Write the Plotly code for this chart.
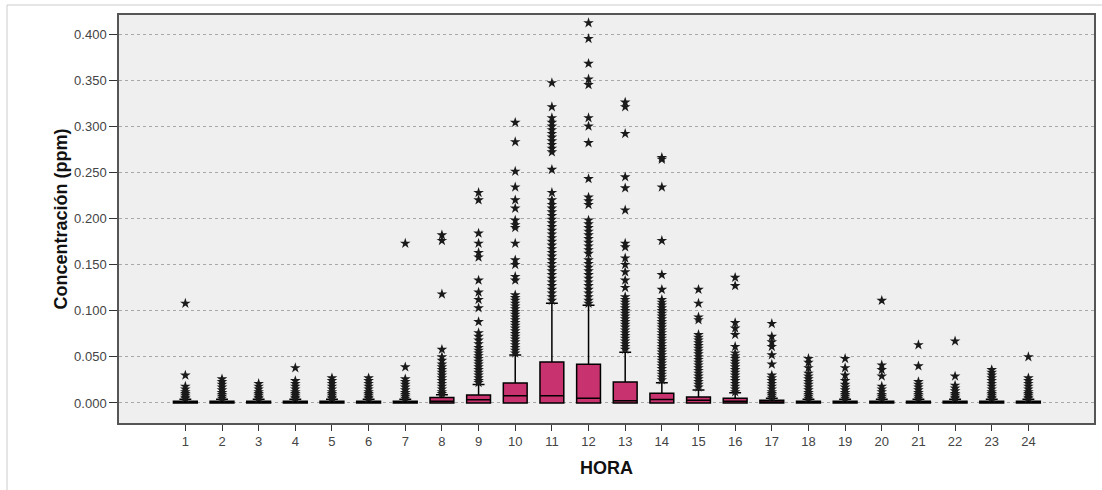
import plotly.graph_objects as go

hours = list(range(1, 25))
tick_labels = [str(h) for h in hours]

# Box statistics per hour (ppm)
q1 = [0.0] * 24
median = [0.001, 0.001, 0.001, 0.001, 0.001, 0.001, 0.001, 0.002, 0.0035, 0.0078,
          0.0078, 0.0052, 0.0025, 0.0038, 0.003, 0.002, 0.001, 0.001, 0.001, 0.001,
          0.001, 0.001, 0.001, 0.001]
q3 = [0.002, 0.002, 0.002, 0.002, 0.002, 0.002, 0.002, 0.006, 0.0087, 0.0217,
      0.0445, 0.042, 0.0228, 0.0105, 0.0065, 0.005, 0.003, 0.002, 0.002, 0.002,
      0.002, 0.002, 0.002, 0.002]
upper_fence = [0.004, 0.004, 0.004, 0.004, 0.004, 0.004, 0.004, 0.009, 0.020, 0.052,
               0.108, 0.106, 0.055, 0.022, 0.014, 0.011, 0.005, 0.004, 0.004, 0.004,
               0.004, 0.004, 0.004, 0.004]
lower_fence = [0.0] * 24

# Outliers per hour (ppm)
out1 = [0.108, 0.030, 0.018, 0.015, 0.012, 0.010, 0.008, 0.006, 0.005]
out2 = [0.026, 0.023, 0.020, 0.017, 0.014, 0.011, 0.009, 0.007, 0.005]
out3 = [0.021, 0.018, 0.015, 0.012, 0.010, 0.008, 0.006, 0.005]
out4 = [0.038, 0.024, 0.021, 0.018, 0.015, 0.012, 0.010, 0.008, 0.006, 0.005]
out5 = [0.027, 0.024, 0.021, 0.018, 0.015, 0.012, 0.010, 0.008, 0.006, 0.005]
out6 = [0.027, 0.024, 0.021, 0.018, 0.015, 0.012, 0.010, 0.008, 0.006, 0.005]
out7 = [0.173, 0.039, 0.026, 0.023, 0.020, 0.017, 0.014, 0.011, 0.009, 0.007, 0.005]
out8 = [0.182, 0.176, 0.118, 0.058, 0.050, 0.046, 0.042, 0.039, 0.036, 0.033, 0.030,
        0.027, 0.024, 0.021, 0.018, 0.015, 0.012, 0.010]
out9 = [0.228, 0.220, 0.184, 0.173, 0.163, 0.158, 0.133, 0.120, 0.112, 0.103, 0.088,
        0.076, 0.072, 0.068, 0.064, 0.060, 0.057, 0.054, 0.051, 0.048, 0.045, 0.042,
        0.039, 0.036, 0.033, 0.030, 0.027, 0.024, 0.022]
out10 = [0.304, 0.283, 0.251, 0.234, 0.220, 0.211, 0.198, 0.193, 0.190, 0.173, 0.155,
         0.150, 0.137, 0.133, 0.117, 0.114, 0.111, 0.108, 0.105, 0.102, 0.099, 0.096,
         0.093, 0.090, 0.087, 0.084, 0.081, 0.078, 0.075, 0.072, 0.069, 0.066, 0.063,
         0.060, 0.057, 0.054]
out11 = [0.347, 0.321, 0.309, 0.304, 0.300, 0.296, 0.292, 0.288, 0.284, 0.280, 0.276,
         0.272, 0.253, 0.228, 0.220, 0.215, 0.211, 0.207, 0.203, 0.199, 0.195, 0.191,
         0.187, 0.183, 0.179, 0.175, 0.171, 0.167, 0.163, 0.159, 0.155, 0.151, 0.147,
         0.143, 0.139, 0.135, 0.131, 0.127, 0.123, 0.119, 0.115, 0.111]
out12 = [0.412, 0.395, 0.368, 0.351, 0.345, 0.309, 0.300, 0.282, 0.243, 0.223, 0.219,
         0.215, 0.198, 0.194, 0.190, 0.186, 0.182, 0.178, 0.174, 0.170, 0.166, 0.162,
         0.155, 0.151, 0.147, 0.143, 0.139, 0.135, 0.131, 0.127, 0.123, 0.119, 0.115,
         0.111, 0.108]
out13 = [0.326, 0.321, 0.292, 0.245, 0.233, 0.209, 0.173, 0.169, 0.157, 0.150, 0.142,
         0.133, 0.125, 0.115, 0.112, 0.109, 0.106, 0.103, 0.100, 0.097, 0.094, 0.091,
         0.088, 0.085, 0.082, 0.079, 0.076, 0.073, 0.070, 0.067, 0.064, 0.061, 0.058]
out14 = [0.266, 0.264, 0.234, 0.176, 0.139, 0.123, 0.112, 0.109, 0.106, 0.103, 0.100,
         0.097, 0.094, 0.091, 0.088, 0.085, 0.082, 0.079, 0.076, 0.073, 0.070, 0.067,
         0.064, 0.061, 0.058, 0.055, 0.052, 0.049, 0.046, 0.043, 0.040, 0.037, 0.034,
         0.031, 0.028, 0.025]
out15 = [0.123, 0.108, 0.093, 0.090, 0.074, 0.071, 0.068, 0.065, 0.062, 0.059, 0.056,
         0.053, 0.050, 0.047, 0.044, 0.041, 0.038, 0.035, 0.032, 0.029, 0.026, 0.023,
         0.020, 0.017]
out16 = [0.136, 0.127, 0.087, 0.081, 0.074, 0.061, 0.054, 0.051, 0.048, 0.045, 0.042,
         0.039, 0.036, 0.033, 0.030, 0.027, 0.024, 0.021, 0.018, 0.015, 0.012]
out17 = [0.086, 0.072, 0.066, 0.061, 0.052, 0.042, 0.030, 0.027, 0.024, 0.021, 0.018,
         0.015, 0.012, 0.010, 0.008, 0.006]
out18 = [0.048, 0.044, 0.038, 0.032, 0.029, 0.026, 0.023, 0.020, 0.017, 0.014, 0.011,
         0.009, 0.007, 0.005]
out19 = [0.048, 0.038, 0.030, 0.024, 0.020, 0.017, 0.014, 0.011, 0.009, 0.007, 0.005]
out20 = [0.111, 0.041, 0.036, 0.029, 0.018, 0.015, 0.012, 0.009, 0.007, 0.005]
out21 = [0.063, 0.040, 0.023, 0.020, 0.017, 0.014, 0.011, 0.009, 0.007, 0.005]
out22 = [0.067, 0.029, 0.019, 0.016, 0.013, 0.010, 0.008, 0.006, 0.005]
out23 = [0.036, 0.033, 0.030, 0.027, 0.024, 0.021, 0.018, 0.015, 0.012, 0.010, 0.008,
         0.006, 0.005]
out24 = [0.050, 0.027, 0.024, 0.021, 0.018, 0.015, 0.012, 0.010, 0.008, 0.006, 0.005]

outliers = [out1, out2, out3, out4, out5, out6, out7, out8, out9, out10, out11, out12,
            out13, out14, out15, out16, out17, out18, out19, out20, out21, out22,
            out23, out24]

y_ticks = [0.0, 0.05, 0.10, 0.15, 0.20, 0.25, 0.30, 0.35, 0.40]

fig = go.Figure()

fig.add_trace(go.Box(
    x=hours, q1=q1, median=median, q3=q3,
    lowerfence=lower_fence, upperfence=upper_fence,
    width=0.65, whiskerwidth=0.5,
    fillcolor="#C8336F",
    line=dict(color="#000000", width=1.5),
    boxpoints=False, showlegend=False, hoverinfo="skip",
))

ox, oy = [], []
for h, vals in zip(hours, outliers):
    ox.extend([h] * len(vals))
    oy.extend(vals)

fig.add_trace(go.Scatter(
    x=ox, y=oy, mode="markers",
    marker=dict(symbol="star", size=8, color="#1a1a1a",
                line=dict(width=0)),
    showlegend=False, hoverinfo="skip",
))

fig.update_layout(
    width=1102, height=490,
    margin=dict(l=119, r=8, t=15, b=67, autoexpand=False),
    paper_bgcolor="white",
    plot_bgcolor="#EFEFEF",
    font=dict(family="Liberation Sans, Arial, sans-serif", color="#444444", size=13),
    showlegend=False,
)

fig.update_xaxes(
    range=[-0.81, 25.79], automargin=False,
    tickmode="array", tickvals=hours, ticktext=tick_labels,
    ticks="outside", ticklen=6, tickcolor="#333333", tickwidth=1.2,
    showgrid=False, zeroline=False,
    showline=True, linecolor="#555555", linewidth=1.5, mirror=True,
    tickfont=dict(size=13, color="#444444"),
    title=dict(text="<b>HORA</b>", font=dict(size=18, color="#111111"), standoff=13),
)

fig.update_yaxes(
    range=[-0.0217, 0.4206], automargin=False,
    tickmode="array", tickvals=y_ticks, tickformat=".3f",
    ticks="outside", ticklen=8, tickcolor="#333333", tickwidth=1.2,
    showgrid=True, gridcolor="#A8A8A8", griddash="dot", gridwidth=1,
    zeroline=False,
    showline=True, linecolor="#555555", linewidth=1.5, mirror=True,
    tickfont=dict(size=13, color="#444444"),
    title=dict(text="<b>Concentración (ppm)</b>", font=dict(size=18, color="#111111"),
               standoff=2),
)

# light outer frame of the exported image
fig.add_shape(type="line", xref="paper", yref="paper",
              x0=-112 / 975, x1=1.01, y0=1 + 10 / 408, y1=1 + 10 / 408,
              line=dict(color="#CCCCCC", width=1))
fig.add_shape(type="line", xref="paper", yref="paper",
              x0=-112 / 975, x1=-112 / 975, y0=1 + 10 / 408, y1=-67 / 408,
              line=dict(color="#CCCCCC", width=1))

fig.write_html("out.html", config={"displayModeBar": False},
               post_script="document.body.style.margin='0';")
